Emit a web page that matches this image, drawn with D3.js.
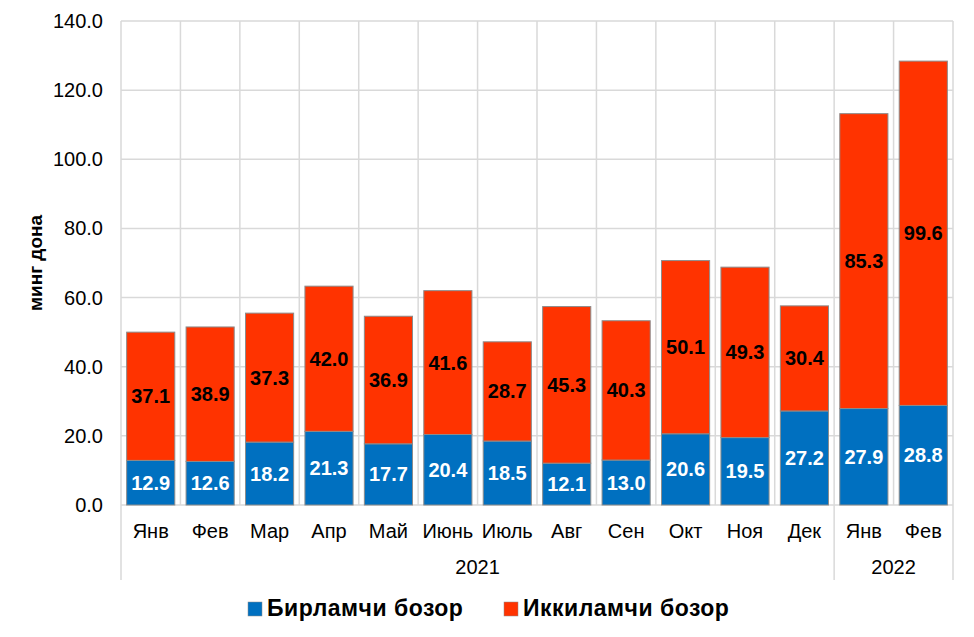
<!DOCTYPE html>
<html>
<head>
<meta charset="utf-8">
<script src="https://cdn.jsdelivr.net/npm/d3@7"></script>
<style>
  body { margin: 0; background: #fff; }
  text { font-family: "Liberation Sans", Arial, sans-serif; }
</style>
</head>
<body>
<svg id="chart" width="974" height="637"></svg>
<script>
// Monthly volumes, thousand units
const months = ["Янв", "Фев", "Мар", "Апр", "Май", "Июнь", "Июль", "Авг", "Сен", "Окт", "Ноя", "Дек", "Янв", "Фев"];
const primary = [12.9, 12.6, 18.2, 21.3, 17.7, 20.4, 18.5, 12.1, 13.0, 20.6, 19.5, 27.2, 27.9, 28.8];
const secondary = [37.1, 38.9, 37.3, 42.0, 36.9, 41.6, 28.7, 45.3, 40.3, 50.1, 49.3, 30.4, 85.3, 99.6];
const years = ["2021", "2022"];
const yearMonthCounts = [12, 2];
const seriesNames = ["Бирламчи бозор", "Иккиламчи бозор"];
const yTicks = [0, 20, 40, 60, 80, 100, 120, 140];

const colors = ["#0070C0", "#FF3300"];
const gridColor = "#d9d9d9";

const svg = d3.select("#chart");
const plotLeft = 121, plotRight = 953, plotTop = 21, plotBottom = 505;

const x = d3.scaleBand().domain(d3.range(months.length)).range([plotLeft, plotRight]).paddingInner(0.19).paddingOuter(0.095);
const y = d3.scaleLinear().domain([0, 140]).range([plotBottom, plotTop]);
const step = x.step();

// Horizontal gridlines
svg.append("g").selectAll("line").data(yTicks).join("line")
  .attr("x1", plotLeft).attr("x2", plotRight)
  .attr("y1", (d) => y(d)).attr("y2", (d) => y(d))
  .attr("stroke", gridColor).attr("stroke-width", 1.5);

// Vertical gridlines at category boundaries
svg.append("g").selectAll("line").data(d3.range(months.length + 1)).join("line")
  .attr("x1", (i) => plotLeft + i * step).attr("x2", (i) => plotLeft + i * step)
  .attr("y1", plotTop).attr("y2", plotBottom)
  .attr("stroke", gridColor).attr("stroke-width", 1.5);

// Year group separators below the axis
const groupEdges = [0, ...d3.cumsum(yearMonthCounts)];
svg.append("g").selectAll("line").data(groupEdges).join("line")
  .attr("x1", (i) => plotLeft + i * step).attr("x2", (i) => plotLeft + i * step)
  .attr("y1", plotBottom).attr("y2", 580)
  .attr("stroke", gridColor).attr("stroke-width", 1.5);

// Y tick labels
svg.append("g").selectAll("text").data(yTicks).join("text")
  .attr("x", 103).attr("y", (d) => y(d) + 7)
  .attr("text-anchor", "end").attr("font-size", 20).attr("fill", "#000")
  .text((d) => d.toFixed(1));

// Y title
svg.append("text")
  .attr("transform", `translate(42,${(plotTop + plotBottom) / 2}) rotate(-90)`)
  .attr("text-anchor", "middle").attr("font-size", 19).attr("font-weight", "bold")
  .text("минг дона");

// Stacked bars
const stackData = months.map((m, i) => ({ i, p: primary[i], s: secondary[i] }));
const stack = d3.stack().keys(["p", "s"])(stackData);

stack.forEach((layer, k) => {
  const g = svg.append("g");
  g.selectAll("rect").data(layer).join("rect")
    .attr("x", (d) => x(d.data.i))
    .attr("width", x.bandwidth())
    .attr("y", (d) => y(d[1]))
    .attr("height", (d) => y(d[0]) - y(d[1]))
    .attr("fill", colors[k])
    .attr("stroke", "#8c8c8c").attr("stroke-width", 1);
  g.selectAll("text").data(layer).join("text")
    .attr("x", (d) => x(d.data.i) + x.bandwidth() / 2)
    .attr("y", (d) => (y(d[0]) + y(d[1])) / 2 + 7)
    .attr("text-anchor", "middle").attr("font-size", 20).attr("font-weight", "bold")
    .attr("fill", k === 0 ? "#fff" : "#000")
    .text((d) => (d[1] - d[0]).toFixed(1));
});

// Month labels
svg.append("g").selectAll("text").data(months).join("text")
  .attr("x", (d, i) => x(i) + x.bandwidth() / 2).attr("y", 538)
  .attr("text-anchor", "middle").attr("font-size", 20)
  .text((d) => d);

// Year labels
svg.append("g").selectAll("text").data(years).join("text")
  .attr("x", (d, i) => plotLeft + (groupEdges[i] + groupEdges[i + 1]) / 2 * step).attr("y", 574)
  .attr("text-anchor", "middle").attr("font-size", 20)
  .text((d) => d);

// Legend
const legendX = [248, 504];
const legend = svg.append("g").selectAll("g").data(seriesNames).join("g")
  .attr("transform", (d, i) => `translate(${legendX[i]},602)`);
legend.append("rect").attr("width", 14).attr("height", 14)
  .attr("fill", (d, i) => colors[i]).attr("stroke", "#8c8c8c").attr("stroke-width", 0.5);
legend.append("text").attr("x", 19).attr("y", 14)
  .attr("font-size", 23).attr("font-weight", "bold").attr("letter-spacing", 0.5)
  .text((d) => d);
</script>
</body>
</html>
